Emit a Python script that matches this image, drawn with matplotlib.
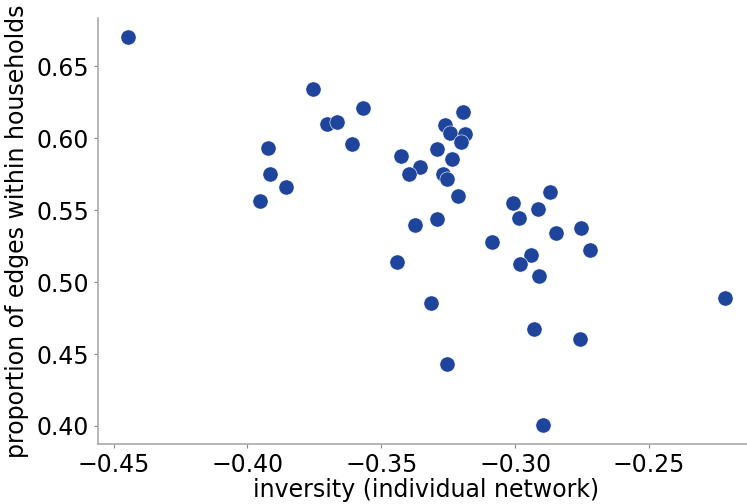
import matplotlib
matplotlib.use("Agg")
import matplotlib.pyplot as plt

inversity = [-0.4447, -0.3757, -0.3569, -0.3702, -0.3665, -0.3611, -0.3925, -0.3915,
             -0.3857, -0.3953, -0.3194, -0.3262, -0.3243, -0.3187, -0.3202, -0.3290,
             -0.3426, -0.3235, -0.3357, -0.3395, -0.3268, -0.3254, -0.3215, -0.3290,
             -0.3373, -0.3440, -0.3313, -0.3254, -0.3088, -0.3006, -0.2987, -0.2915,
             -0.2870, -0.2848, -0.2752, -0.2721, -0.2940, -0.2981, -0.2912, -0.2928,
             -0.2757, -0.2895, -0.2215]
within_hh = [0.6701, 0.6345, 0.6208, 0.6097, 0.6113, 0.5961, 0.5933, 0.5752,
             0.5662, 0.5563, 0.6183, 0.6095, 0.6037, 0.6030, 0.5975, 0.5928,
             0.5873, 0.5856, 0.5803, 0.5750, 0.5750, 0.5713, 0.5597, 0.5440,
             0.5396, 0.5139, 0.4854, 0.4431, 0.5282, 0.5549, 0.5444, 0.5507,
             0.5627, 0.5340, 0.5375, 0.5225, 0.5185, 0.5127, 0.5042, 0.4676,
             0.4606, 0.4009, 0.4887]

fig = plt.figure(figsize=(7.47, 5.04), dpi=100)
ax = fig.add_axes([98 / 747, 60 / 504, 657 / 747, 426 / 504])
ax.scatter(inversity, within_hh, s=120, color='#1f449c', edgecolors='white', linewidths=0.4, zorder=3)

ax.set_xlabel('inversity (individual network)', fontsize=17, labelpad=1)
ax.set_ylabel('proportion of edges within households', fontsize=17, labelpad=5)
ax.tick_params(axis='both', labelsize=17, length=3, color='#888888', width=0.8)
for s in ['top', 'right']:
    ax.spines[s].set_visible(False)
for s in ['left', 'bottom']:
    ax.spines[s].set_color('#aaaaaa')
    ax.spines[s].set_linewidth(1.2)

fig.savefig('out.png', dpi=100)
